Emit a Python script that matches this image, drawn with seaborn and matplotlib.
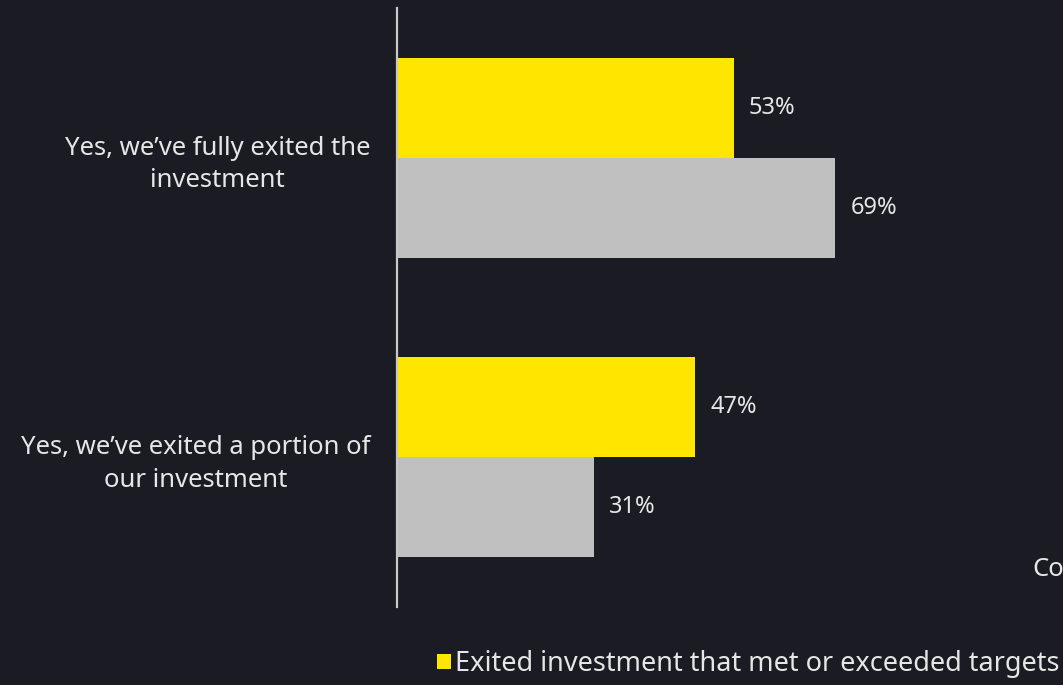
import matplotlib
matplotlib.use("Agg")
import matplotlib.pyplot as plt
import seaborn as sns
import pandas as pd
from matplotlib.patches import Patch

# Data
categories = ["Yes, we\u2019ve fully exited the\ninvestment",
              "Yes, we\u2019ve exited a portion of\nour investment"]
series_names = ["Exited investment that met or exceeded targets", "Co"]
met_targets = [53, 47]
other_exits = [69, 31]

BG = "#1b1b24"
YELLOW = "#FFE600"
GREY = "#C0C0C0"
TEXT = "#e6e6e6"

sns.set_theme(style="white")
plt.rcParams["font.family"] = ["Noto Sans", "DejaVu Sans"]

df = pd.DataFrame({
    "category": categories * 2,
    "series": [series_names[0]] * 2 + [series_names[1]] * 2,
    "value": met_targets + other_exits,
})

fig = plt.figure(figsize=(10.63, 6.85), dpi=100, facecolor=BG)
ax = fig.add_axes([397 / 1063, 1 - 607 / 685, 666 / 1063, 599 / 685])
ax.set_facecolor(BG)

sns.barplot(data=df, y="category", x="value", hue="series",
            hue_order=series_names, order=categories, orient="h",
            palette=[YELLOW, GREY], width=0.667, saturation=1,
            edgecolor="none", linewidth=0, legend=False, ax=ax)

ax.set_xlim(0, 666 / 6.35)
ax.set_ylim(1.5, -0.5)

for cont in ax.containers:
    ax.bar_label(cont, fmt="%d%%", padding=11, color=TEXT, fontsize=17)

for side in ["top", "right", "bottom"]:
    ax.spines[side].set_visible(False)
ax.spines["left"].set_color("#c8c8c8")
ax.spines["left"].set_linewidth(1.6)

ax.set_xlabel("")
ax.set_ylabel("")
ax.set_xticks([])
ax.tick_params(axis="y", length=0, pad=19, labelsize=18.5, labelcolor=TEXT)
for lbl in ax.get_yticklabels():
    lbl.set_multialignment("center")
    lbl.set_linespacing(1.4)

# Legend for the first series, along the bottom
handle = Patch(facecolor=YELLOW, edgecolor="none")
leg = fig.legend([handle], [series_names[0]], loc="center left",
                 bbox_to_anchor=(437 / 1063, 1 - 664 / 685), frameon=False,
                 fontsize=19.5, labelcolor=TEXT, handlelength=0.52,
                 handleheight=0.52, handletextpad=0.15, borderpad=0,
                 borderaxespad=0)

# Second series label, partly off the right edge
fig.text(1032 / 1063, 1 - 570 / 685, series_names[1], color=TEXT,
         fontsize=18.5, ha="left", va="center")

fig.savefig("out.png", dpi=100, facecolor=BG)
